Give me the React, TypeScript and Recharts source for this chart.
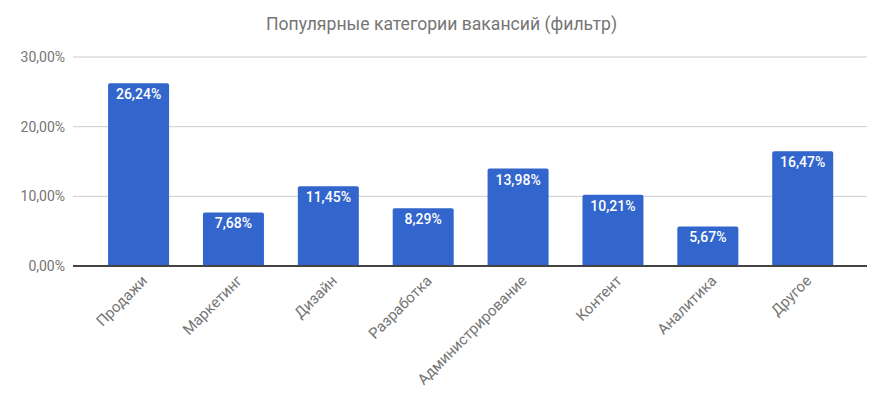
import React from "react"
import { BarChart, Bar, XAxis, YAxis, CartesianGrid, LabelList } from "recharts"

const categories = ["Продажи", "Маркетинг", "Дизайн", "Разработка", "Администрирование", "Контент", "Аналитика", "Другое"]
const shares = [26.24, 7.68, 11.45, 8.29, 13.98, 10.21, 5.67, 16.47]
const yTicks = [0, 10, 20, 30]

const data = categories.map((name, i) => ({ name, value: shares[i] }))

const FONT = "Roboto, 'Noto Sans', sans-serif"
const fmt = (v: number, digits: number) => `${v.toFixed(digits).replace(".", ",")}%`

const XTick = (props: any) => {
    const { x, y, payload } = props
    return (
        <g transform={`translate(${x + 6},${y + 4})`}>
            <text
                x={0}
                y={0}
                dy="0.35em"
                textAnchor="end"
                transform="rotate(-45)"
                fill="#757575"
                fontSize={15}
                fontFamily={FONT}
            >
                {payload.value}
            </text>
        </g>
    )
}

export default function App() {
    return (
        <div style={{ position: "absolute", left: 0, top: 0, width: 883, height: 393, background: "#fff", fontFamily: FONT }}>
            <div
                style={{
                    position: "absolute",
                    top: 14,
                    left: 0,
                    width: 883,
                    textAlign: "center",
                    fontSize: 17.6,
                    color: "#757575",
                }}
            >
                Популярные категории вакансий (фильтр)
            </div>
            <BarChart
                width={883}
                height={393}
                data={data}
                margin={{ top: 57, right: 16, left: 0, bottom: 7 }}
                barCategoryGap="18%"
            >
                <CartesianGrid vertical={false} stroke="#cccccc" />
                <YAxis
                    width={73}
                    domain={[0, 30]}
                    ticks={yTicks}
                    axisLine={false}
                    tickLine={false}
                    tick={{ fill: "#757575", fontSize: 14, fontFamily: FONT }}
                    tickFormatter={(v: number) => fmt(v, 2)}
                />
                <XAxis
                    dataKey="name"
                    height={120}
                    interval={0}
                    padding={{ left: 18, right: 17 }}
                    axisLine={{ stroke: "#444444", strokeWidth: 2 }}
                    tickLine={false}
                    tick={<XTick />}
                />
                <Bar dataKey="value" fill="#3366cc" radius={[2, 2, 0, 0]} isAnimationActive={false}>
                    <LabelList
                        dataKey="value"
                        position="insideTop"
                        offset={6}
                        fill="#ffffff"
                        fontSize={14}
                        fontWeight={500}
                        fontFamily={FONT}
                        formatter={(v: any) => fmt(Number(v), 2)}
                    />
                </Bar>
            </BarChart>
        </div>
    )
}
